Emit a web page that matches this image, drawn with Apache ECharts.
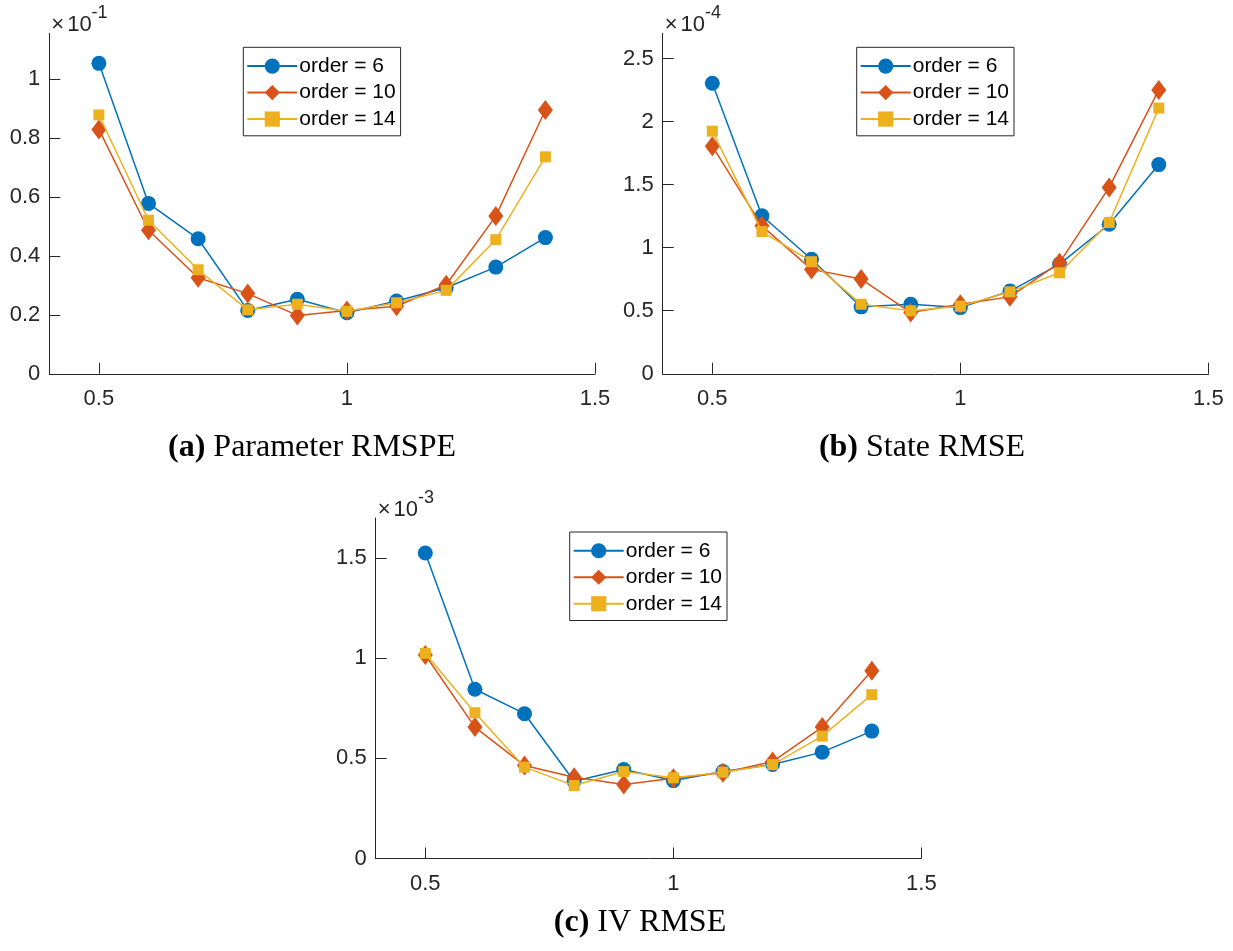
<!DOCTYPE html>
<html>
<head>
<meta charset="utf-8">
<script src="https://cdn.jsdelivr.net/npm/echarts@6/dist/echarts.min.js"></script>
<style>html,body{margin:0;padding:0;background:#fff}#c{width:1233px;height:951px}</style>
</head>
<body>
<div id="c"></div>
<script>
// ---- data (values in displayed units: a ×1e-1, b ×1e-4, c ×1e-3) ----
const xValues = [0.5, 0.6, 0.7, 0.8, 0.9, 1.0, 1.1, 1.2, 1.3, 1.4];
const seriesNames = ['order = 6', 'order = 10', 'order = 14'];

const a6  = [1.053, 0.578, 0.458, 0.215, 0.253, 0.207, 0.247, 0.292, 0.362, 0.462];
const a10 = [0.829, 0.487, 0.326, 0.272, 0.198, 0.215, 0.229, 0.302, 0.535, 0.895];
const a14 = [0.878, 0.521, 0.353, 0.217, 0.236, 0.212, 0.241, 0.283, 0.455, 0.736];

const b6  = [2.304, 1.253, 0.908, 0.531, 0.552, 0.525, 0.656, 0.870, 1.186, 1.659];
const b10 = [1.805, 1.173, 0.828, 0.751, 0.486, 0.552, 0.610, 0.881, 1.478, 2.251];
const b14 = [1.924, 1.128, 0.889, 0.552, 0.499, 0.536, 0.650, 0.801, 1.200, 2.107];

const c6  = [1.525, 0.845, 0.723, 0.386, 0.444, 0.389, 0.434, 0.469, 0.531, 0.636];
const c10 = [1.016, 0.656, 0.464, 0.406, 0.369, 0.401, 0.428, 0.484, 0.656, 0.937];
const c14 = [1.024, 0.728, 0.456, 0.364, 0.434, 0.403, 0.431, 0.469, 0.611, 0.818];

const xTicks = [0.5, 1, 1.5];
const yTicksA = [0, 0.2, 0.4, 0.6, 0.8, 1];
const yTicksB = [0, 0.5, 1, 1.5, 2, 2.5];
const yTicksC = [0, 0.5, 1, 1.5];
const yMaxA = 1.155, yMaxB = 2.7, yMaxC = 1.7;
const xMin = 0.4, xMax = 1.5;
const exponents = ['-1', '-4', '-3'];
const captions = [['(a)', 'Parameter RMSPE'], ['(b)', 'State RMSE'], ['(c)', 'IV RMSE']];

// ---- styles ----
const colors = ['#0072BD', '#D95319', '#EDB120'];
const symbols = ['circle', 'diamond', 'rect'];
const symbolSizes = [15, [15, 20], 11];
const axisColor = '#262626';
const sans = 'Liberation Sans, Arial, Helvetica, sans-serif';
const serif = 'Liberation Serif, Times New Roman, serif';

const panels = [
  { left: 49.3, top: 33.3, data: [a6, a10, a14], yTicks: yTicksA, yMax: yMaxA },
  { left: 662.7, top: 33.3, data: [b6, b10, b14], yTicks: yTicksB, yMax: yMaxB },
  { left: 375.7, top: 518, data: [c6, c10, c14], yTicks: yTicksC, yMax: yMaxC }
];
const gridW = 545.7, gridH = 340.5;
const captionPos = [[312, 432], [922, 432], [640, 907]];

const grid = [], xAxis = [], yAxis = [], series = [], legend = [], title = [];
panels.forEach((p, gi) => {
  grid.push({ left: p.left, top: p.top, width: gridW, height: gridH, outerBoundsMode: 'none', containLabel: false });
  xAxis.push({
    type: 'value', gridIndex: gi, min: xMin, max: xMax,
    axisLine: { onZero: false, lineStyle: { color: axisColor, width: 1 } },
    axisTick: { inside: true, length: 11, customValues: xTicks, lineStyle: { color: axisColor } },
    axisLabel: { customValues: xTicks, margin: 14, fontSize: 22, fontFamily: sans, color: axisColor },
    splitLine: { show: false }
  });
  yAxis.push({
    type: 'value', gridIndex: gi, min: 0, max: p.yMax,
    name: '{m|×}{t|10}{s|' + exponents[gi] + '}',
    nameLocation: 'end', nameGap: -3,
    nameTextStyle: {
      align: 'left', verticalAlign: 'bottom', padding: [0, 0, 0, 2],
      rich: {
        m: { fontSize: 22, fontFamily: sans, color: axisColor, lineHeight: 32, verticalAlign: 'bottom' },
        t: { fontSize: 22, fontFamily: sans, color: axisColor, lineHeight: 32, verticalAlign: 'bottom', padding: [0, 0, 0, 3] },
        s: { fontSize: 18, fontFamily: sans, color: axisColor, lineHeight: 17, verticalAlign: 'top' }
      }
    },
    axisLine: { show: true, lineStyle: { color: axisColor, width: 1 } },
    axisTick: { show: true, inside: true, length: 11, customValues: p.yTicks, lineStyle: { color: axisColor } },
    axisLabel: { customValues: p.yTicks, margin: 9, fontSize: 22, fontFamily: sans, color: axisColor },
    splitLine: { show: false }
  });
  p.data.forEach((arr, si) => {
    series.push({
      type: 'line', name: seriesNames[si], xAxisIndex: gi, yAxisIndex: gi,
      data: xValues.map((x, i) => [x, arr[i]]),
      symbol: symbols[si], symbolSize: symbolSizes[si], showAllSymbol: true,
      itemStyle: { color: colors[si], borderWidth: 0 },
      lineStyle: { color: colors[si], width: 1.5 },
      emphasis: { disabled: true }, silent: true, z: 2 + si
    });
  });
  legend.push({
    data: seriesNames, orient: 'vertical',
    left: p.left + 194, top: p.top + 14,
    itemWidth: 50, itemHeight: 19, itemGap: 5,
    padding: [8, 5, 6, 3],
    borderColor: axisColor, borderWidth: 1, backgroundColor: '#fff',
    selectedMode: false,
    textStyle: { fontSize: 21, fontFamily: sans, color: '#000', lineHeight: 21.5, padding: [0, 0, 0, -3] }
  });
  title.push({
    text: '{b|' + captions[gi][0] + '} {r|' + captions[gi][1] + '}',
    left: captionPos[gi][0], top: captionPos[gi][1], textAlign: 'center', padding: 0,
    textStyle: {
      fontSize: 32, fontFamily: serif, color: '#000', fontWeight: 'normal',
      rich: {
        b: { fontSize: 32, fontFamily: serif, fontWeight: 'bold', color: '#000' },
        r: { fontSize: 32, fontFamily: serif, fontWeight: 'normal', color: '#000' }
      }
    }
  });
});

const chart = echarts.init(document.getElementById('c'), null, { renderer: 'canvas' });
chart.setOption({
  animation: false, backgroundColor: '#fff',
  grid, xAxis, yAxis, series, legend, title
});
</script>
</body>
</html>
